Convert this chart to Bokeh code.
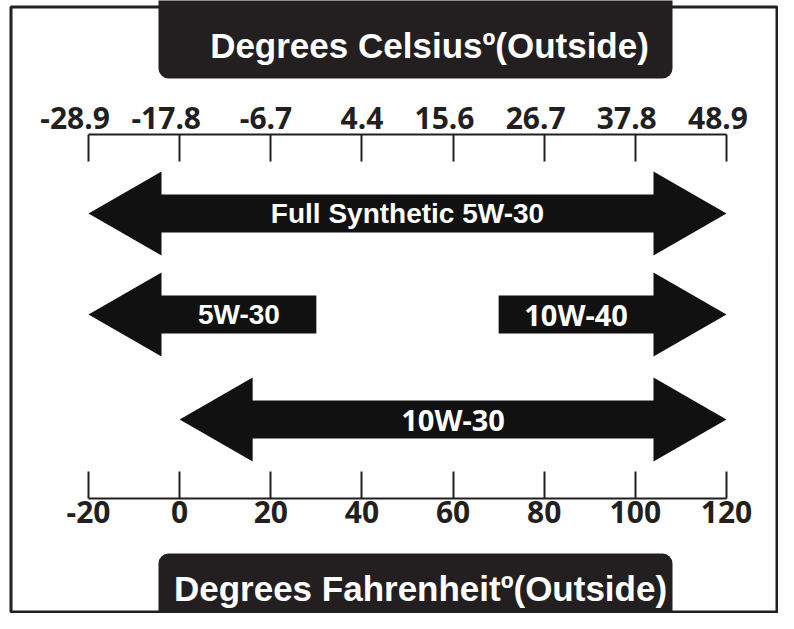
from bokeh.plotting import figure
from bokeh.models import Range1d, LinearAxis, FixedTicker, ColumnDataSource
from bokeh.core.properties import value
from bokeh.embed import file_html
from bokeh.resources import INLINE

# ---------------- data ----------------
oils = ["Full Synthetic 5W-30", "5W-30", "10W-40", "10W-30"]
low_f = [-20, -20, 70, 0]          # lower end of range (deg F)
high_f = [120, 30, 120, 120]       # upper end of range (deg F)
open_low = [True, True, False, True]    # arrowhead at lower end
open_high = [True, False, True, True]   # arrowhead at upper end
f_ticks = [-20, 0, 20, 40, 60, 80, 100, 120]
f_labels = ["-20", "0", "20", "40", "60", "80", "100", "120"]
c_labels = ["-28.9", "-17.8", "-6.7", "4.4", "15.6", "26.7", "37.8", "48.9"]
top_title = "Degrees Celsiusº(Outside)"
bottom_title = "Degrees Fahrenheitº(Outside)"

# ---------------- layout / style ----------------
W, H = 778, 613
INK = "#231f20"
ARROW = "#111111"
NUMFONT = "Noto Sans"
FS = 30
s = (726 - 88) / 140.0           # px per deg F
XL = -20 - 88 / s
XR = XL + W / s
row_y = [213, 314, 314, 419]
HEAD = 73 / s
HH = 42
SH = 38

p = figure(width=W, height=H, x_range=Range1d(XL, XR), y_range=Range1d(H, 0),
           min_border=0, x_axis_location=None, y_axis_location=None,
           toolbar_location=None, output_backend="svg", outline_line_color=None)
p.grid.visible = False
p.extra_x_ranges = {"px": Range1d(0, W)}

# title boxes and outer frame
p.quad(left=[158, 158], right=[672, 672], top=[-20, 553], bottom=[78, 650],
       x_range_name="px", fill_color=INK, line_color=None, border_radius=10)
p.quad(left=[10.5], right=[776.5], top=[6.5], bottom=[611.5], x_range_name="px",
       fill_color=None, line_color=INK, line_width=3)
p.text(x=[429, 420], y=[45, 588], text=[top_title, bottom_title], x_range_name="px",
       text_align="center", text_baseline="middle", text_color="white",
       text_font=value("Liberation Sans"), text_font_style="bold",
       text_font_size="35px")

# arrows
xs, ys, lx = [], [], []
for a, b, y0, ol, oh in zip(low_f, high_f, row_y, open_low, open_high):
    px_, py_ = [], []
    if ol:
        px_ += [a, a + HEAD, a + HEAD]; py_ += [y0, y0 - HH, y0 - SH / 2]
    else:
        px_ += [a]; py_ += [y0 - SH / 2]
    if oh:
        px_ += [b - HEAD, b - HEAD, b, b - HEAD, b - HEAD]
        py_ += [y0 - SH / 2, y0 - HH, y0, y0 + HH, y0 + SH / 2]
    else:
        px_ += [b, b]; py_ += [y0 - SH / 2, y0 + SH / 2]
    if ol:
        px_ += [a + HEAD, a + HEAD]; py_ += [y0 + SH / 2, y0 + HH]
    else:
        px_ += [a]; py_ += [y0 + SH / 2]
    xs.append(px_); ys.append(py_)
    sl = a + HEAD if ol else a
    sr = b - HEAD if oh else b
    lx.append((sl + sr) / 2)
p.patches(xs=xs, ys=ys, fill_color=ARROW, line_color=None)

lab = ColumnDataSource(dict(x=lx, y=row_y, text=oils,
                            font=["Liberation Sans", "Liberation Sans", NUMFONT, NUMFONT],
                            size=["28px", "28px", "29px", "29px"]))
p.text(x="x", y="y", text="text", source=lab, text_align="center",
       text_baseline="middle", text_color="white", text_font="font",
       text_font_style="bold", text_font_size="size")

# axes
def style_axis(ax):
    ax.ticker = FixedTicker(ticks=f_ticks)
    ax.bounds = (-20, 120)
    ax.axis_line_color = INK
    ax.axis_line_width = 2
    ax.major_tick_line_color = INK
    ax.major_tick_line_width = 2
    ax.major_tick_in = 27
    ax.major_tick_out = 0
    ax.minor_tick_line_color = None
    ax.major_label_text_color = INK
    ax.major_label_text_font = NUMFONT
    ax.major_label_text_font_style = "bold"
    ax.major_label_text_font_size = f"{FS}px"

bottom = LinearAxis(fixed_location=498)
style_axis(bottom)
bottom.major_label_standoff = 2
bottom.major_label_overrides = dict(zip(f_ticks, f_labels))
p.add_layout(bottom, "below")

top = LinearAxis(fixed_location=134)
style_axis(top)
top.major_label_overrides = {t: "" for t in f_ticks}
p.add_layout(top, "above")

# Celsius labels, decimal point aligned over each tick
def w(t):
    return sum(0.322 if ch == "-" else 0.572 for ch in t) * FS
offs = []
for t in c_labels:
    left, right = t.split(".")
    offs.append(-(w(left) - w(right)) / 2)
cs = ColumnDataSource(dict(x=f_ticks, text=c_labels, off=offs))
p.text(x="x", y=117, text="text", x_offset="off", source=cs, text_align="center",
       text_baseline="middle", text_color=INK, text_font=value(NUMFONT),
       text_font_style="bold", text_font_size=f"{FS}px")

open("out.html", "w").write(file_html(p, INLINE))
